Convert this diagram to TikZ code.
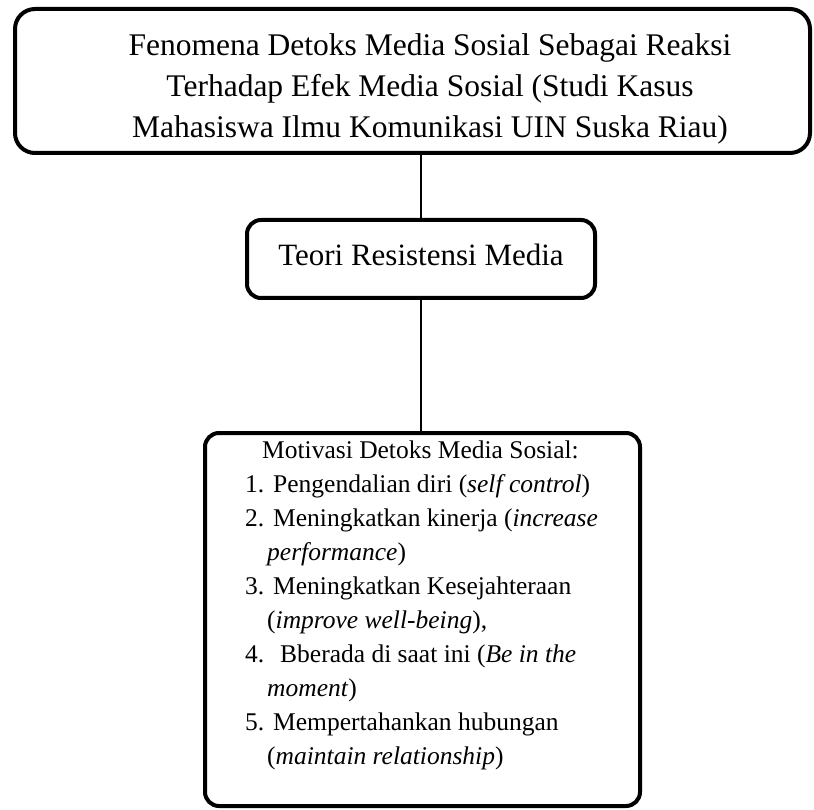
\documentclass[tikz,border=0pt]{standalone}
\usepackage{fontspec}
\setmainfont{Liberation Serif}
\usepackage{tikz}
\usetikzlibrary{calc,positioning}

\tikzset{
  kotak/.style={draw,line width=4pt,rounded corners=14pt,inner sep=0pt},
  garis/.style={line width=1.8pt}
}
\newcommand{\butir}[2]{\makebox[28pt][l]{#1}#2}

\begin{document}
\begin{tikzpicture}[x=1pt,y=-1pt]
\useasboundingbox (0,0) rectangle (814,810);
% judul
\node[kotak,rounded corners=20pt,minimum width=795pt,minimum height=144pt](judul)at(412.5,81){};
\node[align=center,font=\fontsize{31.5}{41}\selectfont](judulteks)at(430,89){Fenomena Detoks Media Sosial Sebagai Reaksi\\Terhadap Efek Media Sosial (Studi Kasus\\Mahasiswa Ilmu Komunikasi UIN Suska Riau)};
% teori
\node[kotak,minimum width=348pt,minimum height=78pt,text depth=8pt,font=\fontsize{31}{41}\selectfont](teori)at(421,259){Teori Resistensi Media};
% motivasi
\node[kotak,minimum width=435pt,minimum height=373pt](motivasi)at(422.5,619.5){};
\node[anchor=north west,align=left,inner sep=0pt,font=\fontsize{25.5}{34}\selectfont](motivasiteks)at(245,440.5){%
\hspace*{17pt}Motivasi Detoks Media Sosial:\\
\butir{1.}{Pengendalian diri (\textit{self control})}\\
\butir{2.}{Meningkatkan kinerja (\textit{increase}}\\
\hspace*{22pt}\textit{performance})\\
\butir{3.}{Meningkatkan Kesejahteraan}\\
\hspace*{22pt}(\textit{improve well-being}),\\
\butir{4.}{\hspace*{7pt}Bberada di saat ini (\textit{Be in the}}\\
\hspace*{22pt}\textit{moment})\\
\butir{5.}{Mempertahankan hubungan}\\
\hspace*{22pt}(\textit{maintain relationship})};
\draw[garis](teori.north|-judul.south)--(teori.north);
\draw[garis](teori.south)--(teori.south|-motivasi.north);
\end{tikzpicture}
\end{document}
